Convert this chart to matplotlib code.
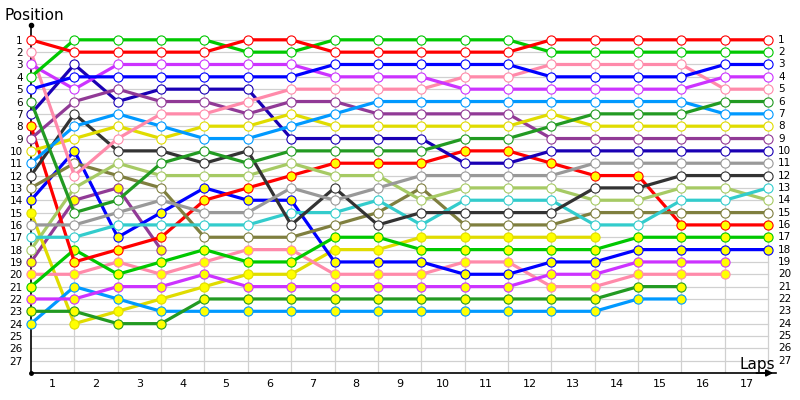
import matplotlib
matplotlib.use('Agg')
import matplotlib.pyplot as plt
import matplotlib.transforms as mtransforms

# positions per lap (lap 0 = start)
red1 = [1, 2, 2, 2, 2, 1, 1, 2, 2, 2, 2, 2, 1, 1, 1, 1, 1, 1]
green1 = [4, 1, 1, 1, 1, 2, 2, 1, 1, 1, 1, 1, 2, 2, 2, 2, 2, 2]
blue1 = [5, 4, 4, 4, 4, 4, 4, 3, 3, 3, 3, 3, 4, 4, 4, 4, 3, 3]
magenta1 = [3, 5, 3, 3, 3, 3, 3, 4, 4, 4, 5, 5, 5, 5, 5, 5, 4, 4]
pink1 = [2, 12, 9, 7, 7, 6, 5, 5, 5, 5, 4, 4, 3, 3, 3, 3, 5, 5]
dkgreen1 = [6, 15, 14, 11, 10, 11, 10, 10, 10, 10, 9, 9, 8, 7, 7, 7, 6, 6]
ltblue1 = [11, 8, 7, 8, 9, 9, 8, 7, 6, 6, 6, 6, 6, 6, 6, 6, 7, 7]
yellow1 = [10, 9, 8, 9, 8, 8, 7, 8, 8, 8, 8, 8, 7, 8, 8, 8, 8, 8]
purple1 = [9, 6, 5, 6, 6, 7, 6, 6, 7, 7, 7, 7, 9, 9, 9, 9, 9, 9]
navy = [7, 3, 6, 5, 5, 5, 9, 9, 9, 9, 11, 11, 10, 10, 10, 10, 10, 10]
gray = [16, 16, 15, 14, 15, 15, 13, 14, 13, 12, 12, 12, 12, 11, 11, 11, 11, 11]
dkgray = [12, 7, 10, 10, 11, 10, 16, 13, 16, 15, 15, 15, 15, 13, 13, 12, 12, 12]
teal = [17, 17, 16, 16, 16, 16, 15, 15, 14, 16, 14, 14, 14, 16, 16, 14, 14, 13]
ltgreen = [18, 13, 11, 12, 12, 12, 11, 12, 12, 14, 13, 13, 13, 14, 14, 13, 13, 14]
olive = [13, 11, 12, 13, 17, 17, 17, 16, 15, 13, 16, 16, 16, 15, 15, 15, 15, 15]
# lapped cars (yellow markers)
red2 = [8, 19, 18, 17, 14, 13, 12, 11, 11, 11, 10, 10, 11, 12, 12, 16, 16, 16]
green2 = [21, 18, 20, 19, 18, 19, 19, 17, 17, 18, 18, 18, 18, 18, 17, 17, 17, 17]
blue2 = [14, 10, 17, 15, 13, 14, 14, 19, 19, 19, 20, 20, 19, 19, 18, 18, 18, 18]
magenta2 = [22, 22, 21, 21, 20, 21, 21, 21, 21, 21, 21, 21, 20, 20, 19, 19, 19]
pink2 = [20, 20, 19, 20, 19, 18, 18, 20, 20, 20, 19, 19, 21, 21, 20, 20, 20]
dkgreen2 = [23, 23, 24, 24, 22, 22, 22, 22, 22, 22, 22, 22, 22, 22, 21, 21]
ltblue2 = [24, 21, 22, 23, 23, 23, 23, 23, 23, 23, 23, 23, 23, 23, 22, 22]
yellow2 = [15, 24, 23, 22, 21, 20, 20, 18, 18, 17, 17, 17, 17, 17]
purple2 = [19, 14, 13, 18]

n_laps = 17
n_pos = 27

drivers = [
    (purple2, '#913a96', True),
    (yellow2, '#e0dc00', True),
    (ltblue2, '#0099ff', True),
    (dkgreen2, '#229a22', True),
    (pink2, '#ff8aaa', True),
    (magenta2, '#cc33ff', True),
    (blue2, '#0000ff', True),
    (green2, '#00c800', True),
    (red2, '#ff0000', True),
    (olive, '#7f7f3f', False),
    (ltgreen, '#a6ca64', False),
    (teal, '#33cccc', False),
    (dkgray, '#333333', False),
    (gray, '#999999', False),
    (navy, '#1a00b4', False),
    (purple1, '#913a96', False),
    (yellow1, '#e0dc00', False),
    (ltblue1, '#0099ff', False),
    (dkgreen1, '#229a22', False),
    (pink1, '#ff8aaa', False),
    (magenta1, '#cc33ff', False),
    (blue1, '#0000ff', False),
    (green1, '#00c800', False),
    (red1, '#ff0000', False),
]

fig = plt.figure(figsize=(8, 4), dpi=100)
ax = fig.add_axes([31 / 800, 27 / 400, 745 / 800, 348 / 400])
ax.set_xlim(0, 17.18)
ax.set_ylim(28, -0.2)

# grid
for p in range(1, n_pos + 1):
    ax.plot([0, n_laps], [p, p], color='#d0d0d0', lw=0.9, zorder=1)
for k in range(1, n_laps + 1):
    ax.plot([k, k], [1, 28], color='#d0d0d0', lw=0.9, zorder=1)

for pos, col, lapped in drivers:
    face = '#ffff00' if lapped else 'white'
    ax.plot(range(len(pos)), pos, color=col, lw=2.3, marker='o', ms=6.6,
            mfc=face, mec=col, mew=0.8, zorder=3, clip_on=False)

for s in ['top', 'right']:
    ax.spines[s].set_visible(False)
ax.spines['left'].set_linewidth(1.2)
ax.spines['bottom'].set_linewidth(1.2)
ax.plot([0], [-0.2], marker='o', ms=3, color='black', clip_on=False, zorder=5)
ax.plot([0], [28], marker='o', ms=2.5, color='black', clip_on=False, zorder=5)
ax.annotate('', xy=(1.0, 0), xycoords='axes fraction', xytext=(0.97, 0),
            arrowprops=dict(arrowstyle='-|>', color='black', lw=1.2,
                            mutation_scale=10))

ax.set_yticks(range(1, n_pos + 1))
ax.set_yticklabels([str(p) for p in range(1, n_pos + 1)], fontsize=7.5)
ax.tick_params(axis='y', length=0, pad=6)
ax.set_xticks([k - 0.5 for k in range(1, n_laps + 1)])
ax.set_xticklabels([str(k) for k in range(1, n_laps + 1)], fontsize=8)
ax.tick_params(axis='x', length=0, pad=4)

trans = mtransforms.blended_transform_factory(ax.transAxes, ax.transData)
for p in range(1, n_pos + 1):
    ax.text(1.003, p, str(p), transform=trans, fontsize=7.5,
            va='center', ha='left')

fig.text(4 / 800, 1 - 15 / 400, 'Position', fontsize=11, va='center', ha='left')
fig.text(775 / 800, 1 - 364 / 400, 'Laps', fontsize=11, va='center', ha='right')

fig.savefig('out.png', dpi=100)
